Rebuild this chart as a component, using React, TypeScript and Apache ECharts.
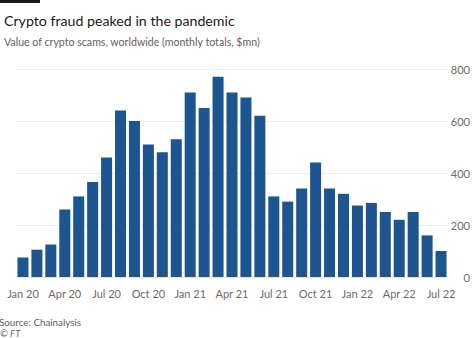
import React, { useEffect, useRef } from "react";
import * as echarts from "echarts";

const months = [
  "Jan 20", "Feb 20", "Mar 20", "Apr 20", "May 20", "Jun 20", "Jul 20", "Aug 20", "Sep 20", "Oct 20", "Nov 20", "Dec 20",
  "Jan 21", "Feb 21", "Mar 21", "Apr 21", "May 21", "Jun 21", "Jul 21", "Aug 21", "Sep 21", "Oct 21", "Nov 21", "Dec 21",
  "Jan 22", "Feb 22", "Mar 22", "Apr 22", "May 22", "Jun 22", "Jul 22",
];
const scams = [
  75, 105, 125, 260, 310, 365, 460, 640, 600, 510, 480, 530,
  710, 650, 770, 710, 690, 620, 310, 290, 340, 440, 340, 320,
  275, 285, 250, 220, 250, 160, 100,
];
const yTicks = { min: 0, max: 800, interval: 200 };

const FONT = "Lato, sans-serif";

export default function App() {
  const ref = useRef<HTMLDivElement>(null);
  useEffect(() => {
    if (!ref.current) return;
    const chart = echarts.init(ref.current, null, { renderer: "svg" });
    chart.setOption({
      animation: false,
      backgroundColor: "#ffffff",
      title: [
        {
          text: "Crypto fraud peaked in the pandemic",
          left: -1,
          top: 8,
          textStyle: { fontFamily: FONT, fontSize: 14.2, fontWeight: "normal", color: "#1a1817" },
        },
        {
          text: "Value of crypto scams, worldwide (monthly totals, $mn)",
          left: -1,
          top: 31,
          textStyle: { fontFamily: FONT, fontSize: 10.6, fontWeight: "normal", color: "#66605c" },
        },
      ],
      graphic: [
        { type: "rect", left: 0, top: 0, shape: { width: 40, height: 3 }, style: { fill: "#1a1817" } },
        {
          type: "text",
          left: -1,
          top: 316,
          style: { text: "Source: Chainalysis", fontFamily: FONT, fontSize: 9.8, lineHeight: 12, fill: "#66605c" },
        },
        {
          type: "text",
          left: 0,
          top: 328,
          style: { text: "© FT", fontFamily: FONT, fontSize: 9.5, lineHeight: 11, fontStyle: "italic", fill: "#66605c" },
        },
      ],
      grid: { left: 16, right: 26, top: 69, bottom: 61 },
      xAxis: {
        type: "category",
        data: months,
        axisLine: { show: true, lineStyle: { color: "#e6e2de" } },
        axisTick: { show: false },
        axisLabel: {
          interval: 2,
          margin: 11,
          color: "#706a66",
          fontFamily: FONT,
          fontSize: 11,
        },
      },
      yAxis: {
        type: "value",
        position: "right",
        min: yTicks.min,
        max: yTicks.max,
        interval: yTicks.interval,
        axisLine: { show: false },
        axisTick: { show: false },
        splitLine: { lineStyle: { color: "#efece9", width: 1 } },
        axisLabel: {
          align: "right",
          margin: 22,
          color: "#706a66",
          fontFamily: FONT,
          fontSize: 11,
        },
      },
      series: [
        {
          type: "bar",
          data: scams,
          barCategoryGap: "21%",
          itemStyle: { color: "#1d5591" },
        },
      ],
    });
    return () => chart.dispose();
  }, []);
  return (
    <div
      ref={ref}
      style={{ position: "fixed", left: 0, top: 0, width: 474, height: 338 }}
    />
  );
}
